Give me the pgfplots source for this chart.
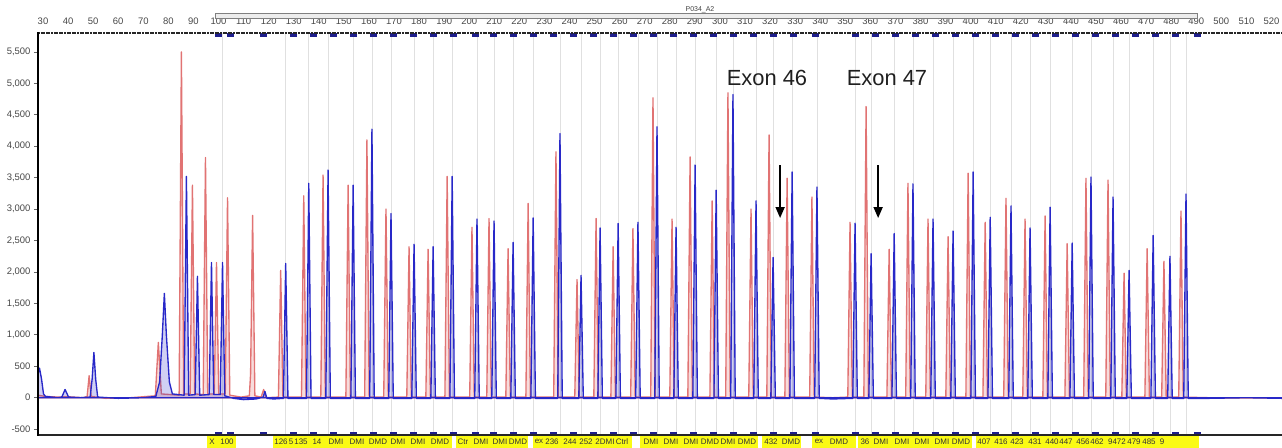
\documentclass[border=0pt]{standalone}
\usepackage{fontspec}
\setmainfont{Liberation Sans}
\usepackage{pgfplots}
\pgfplotsset{compat=1.18}
\usepackage{pgfplotstable}
\usetikzlibrary{arrows.meta}
\definecolor{tracered}{RGB}{225,115,115}
\definecolor{traceblue}{RGB}{40,40,200}
\definecolor{navymark}{RGB}{30,30,140}
\definecolor{binyellow}{RGB}{250,250,20}
\pgfplotstableread{
x yt yb
99.8 5775 -569
104.6 5775 -569
117.8 5775 -569
129.7 5775 -569
137.7 5775 -569
145.7 5775 -569
153.7 5775 -569
161.6 5775 -569
169.6 5775 -569
177.6 5775 -569
185.6 5775 -569
193.5 5775 -569
202.3 5775 -569
209.5 5775 -569
217.5 5775 -569
225.5 5775 -569
233.4 5775 -569
241.4 5775 -569
249.4 5775 -569
257.4 5775 -569
265.3 5775 -569
273.3 5775 -569
281.3 5775 -569
289.3 5775 -569
297.3 5775 -569
305.2 5775 -569
313.2 5775 -569
321.2 5775 -569
329.2 5775 -569
337.9 5775 -569
353.9 5775 -569
361.9 5775 -569
369.9 5775 -569
377.8 5775 -569
385.8 5775 -569
393.8 5775 -569
401.8 5775 -569
409.7 5775 -569
417.7 5775 -569
425.7 5775 -569
433.7 5775 -569
441.7 5775 -569
449.6 5775 -569
457.6 5775 -569
465.6 5775 -569
473.6 5775 -569
481.5 5775 -569
490.3 5775 -569
}\markers
\begin{document}
\begin{tikzpicture}
\begin{axis}[
  at={(0,0)}, anchor=south west,
  scale only axis, width=1244bp, height=402bp,
  xmin=28, xmax=524.2, ymin=-593, ymax=5800,
  axis line style={draw=none},
  xtick={30,40,...,520},
  xtick pos=upper, xticklabel pos=upper,
  xtick style={draw=none},
  xticklabel style={font=\fontsize{9.5}{10}\selectfont, text=black!72, yshift=1.2bp},
  ytick={-500,0,...,5500},
  ytick pos=left, tick align=outside,
  major tick length=4bp,
  ytick style={draw=black!60, line width=0.7bp},
  yticklabel style={font=\fontsize{9.5}{10}\selectfont, text=black!72},
  /pgf/number format/.cd, 1000 sep={,}, assume math mode=true,
  /pgfplots/.cd,
  extra x ticks={101.6,126.8,136,143.7,153.7,161.2,168.8,178,185.6,193.2,203.1,209.9,217.5,225.5,236.2,244.6,252.2,259.4,267.3,274.9,282.5,290.1,298.5,305.2,314.4,321.2,328.8,338.7,353.9,360.3,369.5,377,385,393,401,407.8,416.1,423.7,431.7,440.5,448,456.8,463.2,472.8,479.5,485.9},
  extra x tick labels={},
  extra x tick style={grid=major, major grid style={black!12, line width=0.8bp}, tick style={draw=none}},
]
% red trace
\addplot[draw=tracered, line width=1.35bp, line join=round, fill=tracered, fill opacity=0.25] coordinates {
(28,40)(31,20)(36,10)(40,15)(46,0)(47.6,20)(48.4,350)(49.2,20)(55,-10)(65,0)(74.8,30)(76,880)(77.2,60)
(84.3,40)(85.2,5500)(86.1,60)
(88.7,60)(89.6,3380)(90.5,60)
(93.9,50)(94.8,3820)(95.7,60)
(98.3,60)(99.2,2150)(100.1,60)
(102.7,60)(103.6,3180)(104.5,40)
(109,10)(112.3,30)(112.8,380)(113.6,2900)(114.5,30)
(117,10)(118,130)(119,0)
(123.9,10)(124.8,2025)(125.7,10)
(133.1,10)(134,3210)(134.9,10)
(140.8,10)(141.7,3540)(142.6,10)
(150.8,10)(151.7,3380)(152.6,10)
(158.3,10)(159.2,4100)(160.1,10)
(165.9,10)(166.8,3000)(167.7,10)
(175.1,10)(176,2400)(176.9,10)
(182.7,10)(183.6,2360)(184.5,10)
(190.3,10)(191.2,3520)(192.1,10)
(200.2,10)(201.1,2710)(202,10)
(207,10)(207.9,2850)(208.8,10)
(214.6,10)(215.5,2370)(216.4,10)
(222.6,10)(223.5,3090)(224.4,10)
(233.7,10)(234.6,3910)(235.5,10)
(242.1,10)(243,1880)(243.9,10)
(249.7,10)(250.6,2850)(251.5,10)
(256.5,10)(257.4,2400)(258.3,10)
(264.4,10)(265.3,2690)(266.2,10)
(272.4,10)(273.3,4770)(274.2,10)
(280,10)(280.9,2840)(281.8,10)
(287.2,10)(288.1,3830)(289,10)
(296,10)(296.9,3130)(297.8,10)
(302.3,10)(303.2,4850)(304.1,10)
(311.5,10)(312.4,3000)(313.3,10)
(318.7,10)(319.6,4180)(320.5,10)
(325.9,10)(326.8,3490)(327.7,10)
(335.8,10)(336.7,3190)(337.6,10)
(345,0)
(351,10)(351.9,2790)(352.8,10)
(357.4,10)(358.3,4630)(359.2,10)
(366.6,10)(367.5,2360)(368.4,10)
(374.1,10)(375,3410)(375.9,10)
(382.1,10)(383,2840)(383.9,10)
(390.1,10)(391,2560)(391.9,10)
(398.1,10)(399,3570)(399.9,10)
(404.9,10)(405.8,2790)(406.7,10)
(413.2,10)(414.1,3170)(415,10)
(420.8,10)(421.7,2840)(422.6,10)
(428.8,10)(429.7,2890)(430.6,10)
(437.6,10)(438.5,2450)(439.4,10)
(445.1,10)(446,3490)(446.9,10)
(453.9,10)(454.8,3460)(455.7,10)
(460.3,10)(461.2,1980)(462.1,10)
(469.5,10)(470.4,2370)(471.3,10)
(476.2,10)(477.1,2170)(478,10)
(483,10)(483.9,2970)(484.8,10)
(495,0)(510,-5)(524.2,0)
} \closedcycle;
% blue trace
\addplot[draw=traceblue, line width=1.35bp, line join=round, fill=traceblue, fill opacity=0.22] coordinates {
(28,380)(28.6,470)(29.4,300)(30.2,60)(31,20)(36,0)(37.5,10)(38.8,130)(40.2,10)(45,0)(48.8,10)(49.6,300)(50.3,720)(51,300)(51.8,10)(60,-10)(70,0)(75,20)(76.5,250)(77.6,1000)(78.4,1660)(79.2,1000)(80.4,250)(81.6,60)
(86.3,40)(87.2,3520)(88.1,40)
(90.7,50)(91.6,1930)(92.5,40)
(96.3,50)(97.2,2150)(98.1,50)
(100.7,50)(101.6,2150)(102.5,30)
(106,-10)(110,-30)(115,-20)(117.8,10)(118.5,100)(119.3,-10)(122,-20)
(125.9,-10)(126.8,2135)(127.7,-10)
(135.1,-10)(136,3410)(136.9,-10)
(142.8,-10)(143.7,3620)(144.6,-10)
(152.8,-10)(153.7,3380)(154.6,-10)
(160.3,-10)(161.2,4270)(162.1,-10)
(167.9,-10)(168.8,2930)(169.7,-10)
(177.1,-10)(178,2440)(178.9,-10)
(184.7,-10)(185.6,2400)(186.5,-10)
(192.3,-10)(193.2,3520)(194.1,-10)
(202.2,-10)(203.1,2840)(204,-10)
(209,-10)(209.9,2810)(210.8,-10)
(216.6,-10)(217.5,2470)(218.4,-10)
(224.6,-10)(225.5,2860)(226.4,-10)
(235.3,-10)(236.2,4200)(237.1,-10)
(243.7,-10)(244.6,1945)(245.5,-10)
(251.3,-10)(252.2,2700)(253.1,-10)
(258.5,-10)(259.4,2770)(260.3,-10)
(266.4,-10)(267.3,2790)(268.2,-10)
(274,-10)(274.9,4310)(275.8,-10)
(281.6,-10)(282.5,2710)(283.4,-10)
(289.2,-10)(290.1,3700)(291,-10)
(297.6,-10)(298.5,3300)(299.4,-10)
(304.3,-10)(305.2,4820)(306.1,-10)
(313.5,-10)(314.4,3130)(315.3,-10)
(320.3,-10)(321.2,2230)(322.1,-10)
(327.9,-10)(328.8,3590)(329.7,-10)
(337.8,-10)(338.7,3350)(339.6,-10)
(345,-20)
(353,-10)(353.9,2775)(354.8,-10)
(359.4,-10)(360.3,2290)(361.2,-10)
(368.6,-10)(369.5,2610)(370.4,-10)
(376.1,-10)(377,3400)(377.9,-10)
(384.1,-10)(385,2840)(385.9,-10)
(392.1,-10)(393,2650)(393.9,-10)
(400.1,-10)(401,3590)(401.9,-10)
(406.9,-10)(407.8,2870)(408.7,-10)
(415.2,-10)(416.1,3050)(417,-10)
(422.8,-10)(423.7,2700)(424.6,-10)
(430.8,-10)(431.7,3030)(432.6,-10)
(439.6,-10)(440.5,2460)(441.4,-10)
(447.1,-10)(448,3510)(448.9,-10)
(455.9,-10)(456.8,3190)(457.7,-10)
(462.3,-10)(463.2,2025)(464.1,-10)
(471.9,-10)(472.8,2580)(473.7,-10)
(478.6,-10)(479.5,2250)(480.4,-10)
(485,-10)(485.9,3240)(486.8,-10)
(495,-10)(510,0)(524.2,-10)
} \closedcycle;
% bin markers
\addplot[only marks, mark=square*, mark size=1.7bp, color=navymark, mark options={xscale=1.7}] table[x=x,y=yt] {\markers};
\addplot[only marks, mark=square*, mark size=1.7bp, color=navymark, mark options={xscale=1.7}] table[x=x,y=yb] {\markers};
% arrows
\draw[black, line width=1.6bp, -{Triangle[width=9bp,length=11bp]}] (axis cs:324.0,3700) -- (axis cs:324.0,2857);
\draw[black, line width=1.6bp, -{Triangle[width=9bp,length=11bp]}] (axis cs:363.1,3700) -- (axis cs:363.1,2857);
\end{axis}
\begin{scope}[x=1bp,y=1bp]
% spines
\draw[black!85, line width=1.2bp] (0,0) -- (1244,0);
\draw[black!85, line width=1.8bp, dash pattern=on 2bp off 0.6bp] (0,402) -- (1244,402);
\draw[black, line width=2.2bp] (0,-0.6) -- (0,402.9);
% exon labels
\node[font=\fontsize{22}{24}\selectfont, text=black!88] at (729,357) {Exon 46};
\node[font=\fontsize{22}{24}\selectfont, text=black!88] at (849,357) {Exon 47};
% top band
\filldraw[fill=black!7, draw=black!50, line width=0.6bp] (177,417) rectangle (1159,422);
\node[font=\fontsize{7}{7}\selectfont, text=black!75, inner sep=0pt] at (662,425) {P034\_A2};
% bottom yellow bins
\foreach \a/\b in {169/198,235/414,418/490,495/594,602/720,724/763,774/818,820/934,938/1161}
  \fill[binyellow] (\a,-1) rectangle (\b,-13);
\foreach \p/\t in {212/X,227/100,281/126,291/5,301/135,317/14,336/DMI,357/DMI,378/DMD,398/DMI,418/DMI,440/DMD,463/Ctr,481/DMI,500/DMI,518/DMD,539/ex,552/236,570/244,586/252,605/2DMI,622/Ctrl,651/DMI,671/DMI,691/DMI,710/DMD,728/DMI,747/DMD,771/432,791/DMD,819/ex,839/DMD,865/36,881/DMI,902/DMI,922/DMI,942/DMI,961/DMD,984/407,1001/416,1017/423,1035/431,1052/440,1066/447,1083/456,1097/462,1117/9472,1134/479,1149/485,1162/9}
  \node[font=\fontsize{8}{8}\selectfont, text=black!80, inner sep=0pt] at ({\p-38},-6.8) {\t};
\end{scope}
\pgfresetboundingbox
\path[use as bounding box] (-38bp,-13bp) rectangle (1244bp,435bp);
\end{tikzpicture}
\end{document}
